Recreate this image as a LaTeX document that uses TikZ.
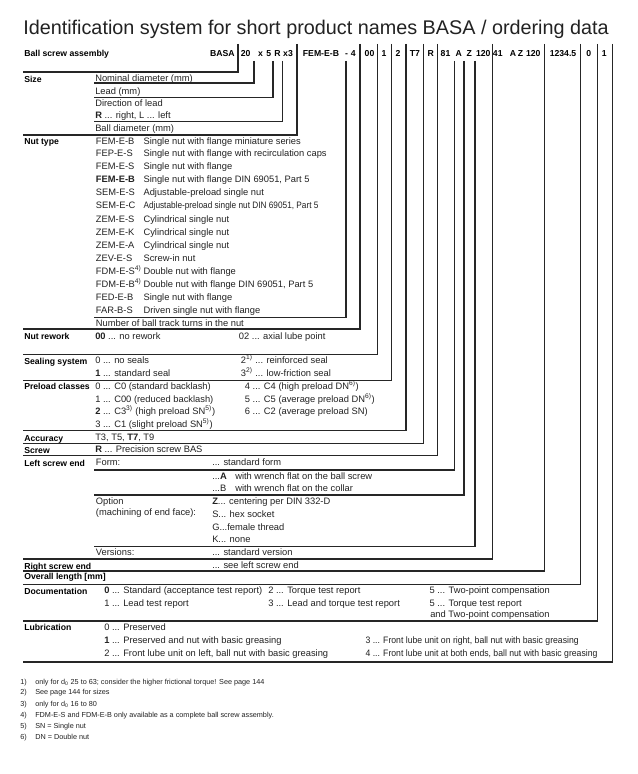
\documentclass[tikz,border=0pt]{standalone}
\usepackage{fontspec}
\setmainfont{Liberation Sans}
\definecolor{txt}{HTML}{222222}
\tikzset{
 ttl/.style={anchor=base west, inner sep=0pt, font=\fontsize{14.85}{16}\selectfont, text=txt},
 body/.style={anchor=base west, inner sep=0pt, yshift=0.4pt, font=\fontsize{7}{8}\selectfont, text=txt},
 lbl/.style={anchor=base west, inner sep=0pt, font=\fontsize{6.5}{8}\selectfont\bfseries, text=black},
 code/.style={anchor=base, inner sep=0pt, font=\fontsize{6.5}{8}\selectfont\bfseries, text=black},
 fn/.style={anchor=base west, inner sep=0pt, font=\fontsize{5.45}{6}\selectfont, text=txt},
 rule/.style={line width=0.8pt, black!85},
}
\begin{document}
\begin{tikzpicture}[x=0.75pt,y=-0.75pt]
\useasboundingbox (0,0) rectangle (637,774);
\fill[white] (0,0) rectangle (637,774);
% title
\node[ttl] (title) at (23,34.3) {Identification system for short product names BASA / ordering data};
% header
\node[lbl] (hdr) at (24,56.2) {Ball screw assembly};
\node[code,anchor=base east] (cBASA) at (235,56.2) {BASA};
\node[code] (c20) at (245.7,56.2) {20};
\node[code] (cx) at (260.5,56.2) {x};
\node[code] (c5) at (268.7,56.2) {5};
\node[code] (cR) at (277.5,56.2) {R};
\node[code] (cx3) at (288,56.2) {x3};
\node[code] (cFEM) at (321,56.2) {FEM-E-B};
\node[code] (cdash) at (346.5,56.2) {-};
\node[code] (c4) at (353.3,56.2) {4};
\node[code] (c00) at (369.5,56.2) {00};
\node[code] (c1) at (384,56.2) {1};
\node[code] (c2) at (398,56.2) {2};
\node[code] (cT7) at (415,56.2) {T7};
\node[code] (cRs) at (430.8,56.2) {R};
\node[code] (c81) at (445.5,56.2) {81};
\node[code] (cA1) at (458.8,56.2) {A};
\node[code] (cZ1) at (469.2,56.2) {Z};
\node[code] (c120a) at (483.3,56.2) {120};
\node[code] (c41) at (497.8,56.2) {41};
\node[code] (cA2) at (513,56.2) {A};
\node[code] (cZ2) at (520.5,56.2) {Z};
\node[code] (c120b) at (533.3,56.2) {120};
\node[code] (cLen) at (563,56.2) {1234.5};
\node[code] (cDoc) at (588.7,56.2) {0};
\node[code] (cLub) at (604.3,56.2) {1};
% rules
\draw[rule] (238,44) |- (23,72);
\draw[rule] (254,61) |- (94,83);
\draw[rule] (273,61) |- (94,97.7);
\draw[rule] (282.7,61) |- (94,121.7);
\draw[rule] (297,44) |- (23,135);
\draw[rule] (346,61) |- (94,317.5);
\draw[rule] (360,44) |- (23,329);
\draw[rule] (377.7,44) |- (23,354.3);
\draw[rule] (391.7,44) |- (23,380.3);
\draw[rule] (406,44) |- (23,430.7);
\draw[rule] (423.3,44) |- (23,443.3);
\draw[rule] (437.3,44) |- (23,455.7);
\draw[rule] (454.3,61) |- (94,470);
\draw[rule] (464,61) |- (94,495);
\draw[rule] (475,61) |- (94,546.7);
\draw[rule] (492.3,44) |- (23,559);
\draw[rule] (544.3,44) |- (23,571);
\draw[rule] (580.7,44) |- (23,584.5);
\draw[rule] (597.7,44) |- (23,621);
\draw[rule] (612.3,44) |- (23,662);
% Size
\node[lbl] (lSize) at (24,82.2) {Size};
\node[body] (s1) at (95,82.2) {Nominal diameter (mm)};
\node[body] (s2) at (95,94.9) {Lead (mm)};
\node[body] (s3) at (95,107.2) {Direction of lead};
\node[body] (s4) at (95,119.2) {\textbf{R} ... right, L ... left};
\node[body] (s5) at (95,132.2) {Ball diameter (mm)};
% Nut type
\node[lbl] (lNut) at (24,144.9) {Nut type};
\node[body] (n1a) at (95.7,144.9) {FEM-E-B};  \node[body] (n1b) at (143.3,144.9) {Single nut with flange miniature series};
\node[body] (n2a) at (95.7,157.5) {FEP-E-S};  \node[body] (n2b) at (143.3,157.5) {Single nut with flange with recirculation caps};
\node[body] (n3a) at (95.7,170.2) {FEM-E-S};  \node[body] (n3b) at (143.3,170.2) {Single nut with flange};
\node[body] (n4a) at (95.7,183.5) {\textbf{FEM-E-B}};  \node[body] (n4b) at (143.3,183.5) {Single nut with flange DIN 69051, Part 5};
\node[body] (n5a) at (95.7,196.2) {SEM-E-S};  \node[body] (n5b) at (143.3,196.2) {Adjustable-preload single nut};
\node[body] (n6a) at (95.7,209.5) {SEM-E-C};  \node[body] (n6b) at (143.3,209.5) {\scalebox{0.885}[1]{Adjustable-preload single nut DIN 69051, Part 5}};
\node[body] (n7a) at (95.7,222.9) {ZEM-E-S};  \node[body] (n7b) at (143.3,222.9) {Cylindrical single nut};
\node[body] (n8a) at (95.7,236.2) {ZEM-E-K};  \node[body] (n8b) at (143.3,236.2) {Cylindrical single nut};
\node[body] (n9a) at (95.7,249.2) {ZEM-E-A};  \node[body] (n9b) at (143.3,249.2) {Cylindrical single nut};
\node[body] (n10a) at (95.7,262.2) {ZEV-E-S};  \node[body] (n10b) at (143.3,262.2) {Screw-in nut};
\node[body] (n11a) at (95.7,275.2) {FDM-E-S\textsuperscript{4)}};  \node[body] (n11b) at (143.3,275.2) {Double nut with flange};
\node[body] (n12a) at (95.7,288.2) {FDM-E-B\textsuperscript{4)}};  \node[body] (n12b) at (143.3,288.2) {Double nut with flange DIN 69051, Part 5};
\node[body] (n13a) at (95.7,301.2) {FED-E-B};  \node[body] (n13b) at (143.3,301.2) {Single nut with flange};
\node[body] (n14a) at (95.7,314.2) {FAR-B-S};  \node[body] (n14b) at (143.3,314.2) {Driven single nut with flange};
\node[body] (n15) at (95.7,326.9) {Number of ball track turns in the nut};
% Nut rework
\node[lbl] (lRew) at (24,339.9) {Nut rework};
\node[body] (r1) at (95,339.9) {\textbf{00} ... no rework};
\node[body] (r2) at (238.7,339.9) {02 ... axial lube point};
% Sealing
\node[lbl] (lSeal) at (24,364.2) {Sealing system};
\node[body] (e1) at (95,364.2) {0 ... no seals};
\node[body] (e2) at (240.7,364.2) {2\textsuperscript{1)} ... reinforced seal};
\node[body] (e3) at (95,376.9) {\textbf{1} ... standard seal};
\node[body] (e4) at (240.7,376.9) {3\textsuperscript{2)} ... low-friction seal};
% Preload
\node[lbl] (lPre) at (24,389.9) {Preload classes};
\node[body] (p1) at (95,389.9) {0 ... C0 (standard backlash)};
\node[body] (p2) at (244.7,389.9) {4 ... C4 (high preload DN\textsuperscript{6)})};
\node[body] (p3) at (95,403.2) {1 ... C00 (reduced backlash)};
\node[body] (p4) at (244.7,403.2) {5 ... C5 (average preload DN\textsuperscript{6)})};
\node[body] (p5) at (95,415.2) {\textbf{2} ... C3\textsuperscript{3)} (high preload SN\textsuperscript{5)})};
\node[body] (p6) at (244.7,415.2) {6 ... C2 (average preload SN)};
\node[body] (p7) at (95,428.2) {3 ... C1 (slight preload SN\textsuperscript{5)})};
% Accuracy, Screw
\node[lbl] (lAcc) at (24,441.5) {Accuracy};
\node[body] (a1) at (95,441.5) {T3, T5, \textbf{T7}, T9};
\node[lbl] (lScr) at (24,453.2) {Screw};
\node[body] (sc1) at (95,453.2) {\textbf{R} ... Precision screw BAS};
% Left screw end
\node[lbl] (lLeft) at (24,466.5) {Left screw end};
\node[body] (f1) at (95.7,466.5) {Form:};
\node[body] (f2) at (212,466.5) {... standard form};
\node[body] (f3) at (212,479.9) {...\textbf{A}};
\node[body] (f3b) at (235,479.9) {with wrench flat on the ball screw};
\node[body] (f4) at (212,492.2) {...B};
\node[body] (f4b) at (235,492.2) {with wrench flat on the collar};
\node[body] (o1) at (95.7,505.2) {Option};
\node[body] (o2) at (95.7,515.9) {(machining of end face):};
\node[body] (o3) at (212,505.2) {\textbf{Z}... centering per DIN 332-D};
\node[body] (o4) at (212,518.2) {S... hex socket};
\node[body] (o5) at (212,531.2) {G...female thread};
\node[body] (o6) at (212,543.2) {K... none};
\node[body] (v1) at (95.7,555.9) {Versions:};
\node[body] (v2) at (212,555.9) {... standard version};
% Right screw end, length
\node[lbl] (lRight) at (24,569.2) {Right screw end};
\node[body] (rs1) at (212,569.2) {... see left screw end};
\node[lbl] (lLen) at (24,579.9) {Overall length [mm]};
% Documentation
\node[lbl] (lDoc) at (24,594.2) {Documentation};
\node[body] (d1) at (104,594.2) {\textbf{0} ... Standard (acceptance test report)};
\node[body] (d2) at (268,594.2) {2 ... Torque test report};
\node[body] (d3) at (429.3,594.2) {5 ... Two-point compensation};
\node[body] (d4) at (104,607.2) {1 ... Lead test report};
\node[body] (d5) at (268,607.2) {3 ... Lead and torque test report};
\node[body] (d6) at (429.3,607.2) {5 ... Torque test report};
\node[body] (d7) at (430,618.2) {and Two-point compensation};
% Lubrication
\node[lbl] (lLub) at (24,630.9) {Lubrication};
\node[body] (u1) at (104,630.9) {0 ... Preserved};
\node[body] (u2) at (104,643.9) {\textbf{1} ... Preserved and nut with basic greasing};
\node[body] (u3) at (104,657.2) {2 ... Front lube unit on left, ball nut with basic greasing};
\node[body] (u4) at (365.3,643.9) {\scalebox{0.928}[1]{3 ... Front lube unit on right, ball nut with basic greasing}};
\node[body] (u5) at (365.3,657.2) {\scalebox{0.928}[1]{4 ... Front lube unit at both ends, ball nut with basic greasing}};
% footnotes
\node[fn] (fn1) at (20,684.3) {1)};\node[fn] (fn1t) at (35,684.3) {only for d\textsubscript{0} 25 to 63; consider the higher frictional torque! See page 144};
\node[fn] (fn2) at (20,694.9) {2)};\node[fn] (fn2t) at (35,694.9) {See page 144 for sizes};
\node[fn] (fn3) at (20,706.6) {3)};\node[fn] (fn3t) at (35,706.6) {only for d\textsubscript{0} 16 to 80};
\node[fn] (fn4) at (20,717.6) {4)};\node[fn] (fn4t) at (35,717.6) {FDM-E-S and FDM-E-B only available as a complete ball screw assembly.};
\node[fn] (fn5) at (20,728.6) {5)};\node[fn] (fn5t) at (35,728.6) {SN = Single nut};
\node[fn] (fn6) at (20,739.6) {6)};\node[fn] (fn6t) at (35,739.6) {DN = Double nut};
\end{tikzpicture}
\end{document}
